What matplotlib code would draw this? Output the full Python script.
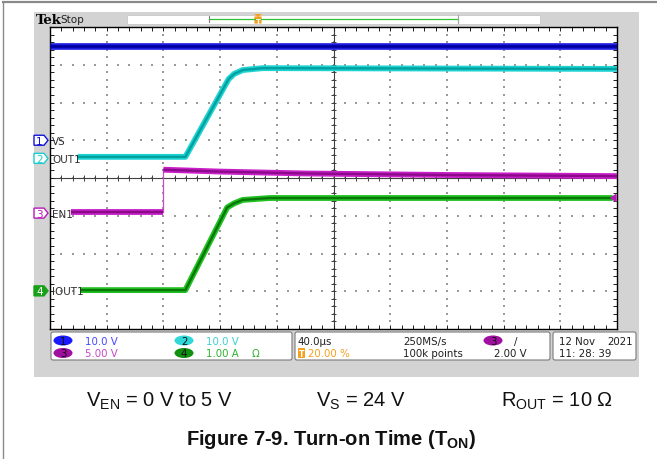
import numpy as np
import matplotlib
matplotlib.use("Agg")
import matplotlib.pyplot as plt
from matplotlib.patches import Rectangle, FancyBboxPatch, Polygon, Ellipse

plt.rcParams['mathtext.fontset'] = 'custom'
plt.rcParams['mathtext.rm'] = 'Liberation Sans'
plt.rcParams['mathtext.bf'] = 'Liberation Sans:bold'

# traces: time in µs (40 µs/div, trigger at 20 %), level in divisions (0..8)
time_vs = [-80, 320]
vs_div = [7.49, 7.49]

time_out = [-60.5, 15.5, 46, 50, 56, 70, 320]
out_div = [4.56, 4.56, 6.62, 6.76, 6.86, 6.91, 6.89]

time_en_low = [-65.5, 0]
en_low_div = [3.10, 3.10]
time_en_high = [0, 40, 100, 200, 320]
en_high_div = [4.22, 4.17, 4.12, 4.08, 4.05]

time_iout = [-58.5, 15.5, 45, 50, 56, 75, 317]
iout_div = [1.03, 1.03, 3.22, 3.33, 3.42, 3.47, 3.47]

# channel ground markers (divisions) and labels
ch_names = ['VS', 'OUT1', 'EN1', 'IOUT1']
ch_ground = [5.0, 4.52, 3.07, 1.01]
ch_colors = ['#1414d8', '#1ccccc', '#b81ab8', '#18a018']
ch_scale = ['10.0 V', '10.0 V', '5.00 V', '1.00 A']

W, H = 657, 460
fig = plt.figure(figsize=(W / 100, H / 100), dpi=100)

# background / page layer in pixel coordinates
bg = fig.add_axes([0, 0, 1, 1], zorder=0)
bg.set_xlim(0, W)
bg.set_ylim(H, 0)
bg.axis('off')
bg.plot([3, W], [3, 3], color='#8a8a8a', lw=1.6)
bg.plot([3, 3], [3, H], color='#8a8a8a', lw=1.0)
bg.add_patch(Rectangle((34, 13), 605, 365, color='#d3d3d3', lw=0))

# header
bg.text(36, 20, 'Tek', fontsize=9.5, fontweight='bold', family='DejaVu Serif',
        va='center', ha='left', color='black')
bg.text(60, 20, 'Stop', fontsize=7.5, va='center', ha='left', color='#202020')
bg.add_patch(Rectangle((127, 15.5), 413, 9, facecolor='white', edgecolor='#c8c8c8', lw=0.6))
bg.plot([209, 458], [20, 20], color='#30c030', lw=0.9)
bg.plot([209, 209], [17, 23], color='#808080', lw=0.8)
bg.plot([458, 458], [16, 24], color='#a0a0a0', lw=0.8)
bg.add_patch(FancyBboxPatch((255, 18), 6, 6, boxstyle='round,pad=0.6', color='#f5a020', lw=0))
bg.add_patch(Polygon([[254, 15], [262, 15], [258, 18]], closed=True, color='#f5a020', lw=0))
bg.text(258, 21.5, 'T', fontsize=5, color='white', fontweight='bold', ha='center', va='center')

# trigger position marker
bg.add_patch(FancyBboxPatch((158.5, 32), 9, 10, boxstyle='round,pad=0.8', color='#f5a020', lw=0))
bg.add_patch(Polygon([[157, 28], [169, 28], [163, 32]], closed=True, color='#f5a020', lw=0))
bg.text(163, 37.5, 'T', fontsize=7, color='white', fontweight='bold', ha='center', va='center')

# bottom readout boxes
for x0, x1 in [(51, 292), (295, 550), (553, 636)]:
    bg.add_patch(FancyBboxPatch((x0 + 2, 335), x1 - x0 - 4, 24,
                                boxstyle='round,pad=2', facecolor='white',
                                edgecolor='#7a7a7a', lw=0.8))
row1, row2 = 341.5, 354
fs = 7.4
ell = [(63, row1), (184, row1), (63, row2), (184, row2)]
ell_fill = ['#1a1aff', '#30d8d8', '#a010a0', '#109010']
txt_col = ['#4848ff', '#40d0d0', '#c848c8', '#30b030']
for i in range(4):
    ex, ey = ell[i]
    bg.add_patch(Ellipse((ex, ey), 19, 10, color=ell_fill[i], lw=0))
    bg.text(ex, ey + 0.5, str(i + 1), fontsize=fs, ha='center', va='center', color='#101010')
    bg.text(ex + 22, ey + 0.5, ch_scale[i], fontsize=fs, ha='left', va='center', color=txt_col[i])
bg.text(252, row2 + 0.5, 'Ω', fontsize=fs, ha='left', va='center', color='#30b030')

bg.text(298, row1 + 0.5, '40.0µs', fontsize=fs, ha='left', va='center', color='#202020')
bg.add_patch(FancyBboxPatch((298.5, row2 - 4.5), 6, 9, boxstyle='round,pad=0.5', color='#f5a020', lw=0))
bg.text(301.5, row2 + 0.5, 'T', fontsize=5.5, ha='center', va='center', color='white', fontweight='bold')
bg.text(308, row2 + 0.5, '20.00 %', fontsize=fs, ha='left', va='center', color='#f5a020')
bg.text(403, row1 + 0.5, '250MS/s', fontsize=fs, ha='left', va='center', color='#202020')
bg.text(403, row2 + 0.5, '100k points', fontsize=fs, ha='left', va='center', color='#202020')
bg.add_patch(Ellipse((493, row1), 19, 10, color='#a010a0', lw=0))
bg.text(493, row1 + 0.5, '3', fontsize=fs, ha='center', va='center', color='#101010')
bg.text(516, row1 + 0.5, '/', fontsize=fs, ha='center', va='center', color='#202020')
bg.text(494, row2 + 0.5, '2.00 V', fontsize=fs, ha='left', va='center', color='#202020')
bg.text(559, row1 + 0.5, '12 Nov', fontsize=fs, ha='left', va='center', color='#202020')
bg.text(633, row1 + 0.5, '2021', fontsize=fs, ha='right', va='center', color='#202020')
bg.text(559, row2 + 0.5, '11: 28: 39', fontsize=fs, ha='left', va='center', color='#202020')

# caption
cap = dict(fontsize=14.5, family='Liberation Sans', va='center', ha='center', color='#111111')
bg.text(159, 401, r'V$_{\mathrm{EN}}$ = 0 V to 5 V', **cap)
bg.text(361, 401, r'V$_{\mathrm{S}}$ = 24 V', **cap)
bg.text(557, 401, r'R$_{\mathrm{OUT}}$ = 10 Ω', **cap)
bg.text(331, 440, r'Figure 7-9. Turn-on Time (T$_{\mathbf{ON}}$)', fontsize=14.5,
        fontweight='bold', family='Liberation Sans', va='center', ha='center', color='#111111')

# graticule
gx0, gx1, gy0, gy1 = 50, 617, 28, 330
ax = fig.add_axes([gx0 / W, 1 - gy1 / H, (gx1 - gx0) / W, (gy1 - gy0) / H], zorder=1)
ax.set_xlim(-80, 320)
ax.set_ylim(0, 8)
ax.set_facecolor('white')
for s in ax.spines.values():
    s.set_color('black')
    s.set_linewidth(1.0)
ax.set_xticks([])
ax.set_yticks([])
ax.set_xticks(np.arange(-72, 320, 8), minor=True)
ax.set_yticks(np.arange(0.2, 8, 0.2), minor=True)
ax.tick_params(which='minor', direction='in', length=3, width=0.7, color='#202020',
               top=True, right=True, labelbottom=False, labelleft=False)

dots_x, dots_y = [], []
for xk in np.arange(-40, 320, 40):
    for yv in np.arange(0.2, 8, 0.2):
        dots_x.append(xk)
        dots_y.append(yv)
for yk in range(1, 8):
    for xv in np.arange(-72, 320, 8):
        dots_x.append(xv)
        dots_y.append(yk)
ax.scatter(dots_x, dots_y, s=1.2, marker='s', color='#9a9a9a', linewidths=0, zorder=1)

ax.axhline(4, color='#404040', lw=0.8, zorder=1)
ax.axvline(120, color='#404040', lw=0.8, zorder=1)
ax.vlines(np.arange(-72, 320, 8), 4 - 0.07, 4 + 0.07, color='#404040', lw=0.7, zorder=1)
ax.hlines(np.arange(0.2, 8, 0.2), 120 - 2.1, 120 + 2.1, color='#404040', lw=0.7, zorder=1)

# traces
def trace(t, v, outer, inner, lw=4.2):
    ax.plot(t, v, color=outer, lw=lw, solid_capstyle='butt', solid_joinstyle='round', zorder=3)
    ax.plot(t, v, color=inner, lw=lw * 0.4, solid_capstyle='butt', solid_joinstyle='round', zorder=3)

trace(time_vs, vs_div, '#1c1ce0', '#0000a0', lw=4.8)
trace(time_out, out_div, '#1ed2d2', '#00a0a0')
ax.plot([time_en_low[-1], time_en_high[0]], [en_low_div[-1], en_high_div[0]],
        color='#c050c0', lw=0.9, zorder=3)
trace(time_en_low, en_low_div, '#c81ec8', '#8a0a8a')
trace(time_en_high, en_high_div, '#c81ec8', '#8a0a8a')
trace(time_iout, iout_div, '#22c022', '#087808')

# channel markers and labels (pixel coordinates)
px = bg.transData
for i in range(4):
    yp = gy1 - ch_ground[i] / 8 * (gy1 - gy0)
    if i == 3:
        fc, tc = ch_colors[i], 'white'
    else:
        fc, tc = 'white', ch_colors[i]
    ax.add_patch(Polygon([[34, yp - 5], [44, yp - 5], [48, yp], [44, yp + 5], [34, yp + 5]],
                         closed=True, facecolor=fc, edgecolor=ch_colors[i], lw=1.0,
                         transform=px, clip_on=False, zorder=5))
    ax.text(39.5, yp + 0.5, str(i + 1), fontsize=7.5, color=tc, ha='center', va='center',
            transform=px, clip_on=False, zorder=6)
    ax.text(52, yp + 0.5, ch_names[i], fontsize=7.5, color='#303030', ha='left', va='center',
            transform=px, clip_on=False, zorder=6)

# trigger level arrow (ch3, 2.00 V)
trig_div = ch_ground[2] + 2.0 / 5.0
ty = gy1 - trig_div / 8 * (gy1 - gy0)
ax.add_patch(Polygon([[611, ty], [616, ty - 3.5], [616, ty + 3.5]], closed=True,
                     color='#b81ab8', transform=px, clip_on=False, zorder=5))

fig.savefig('out.png', dpi=100)
